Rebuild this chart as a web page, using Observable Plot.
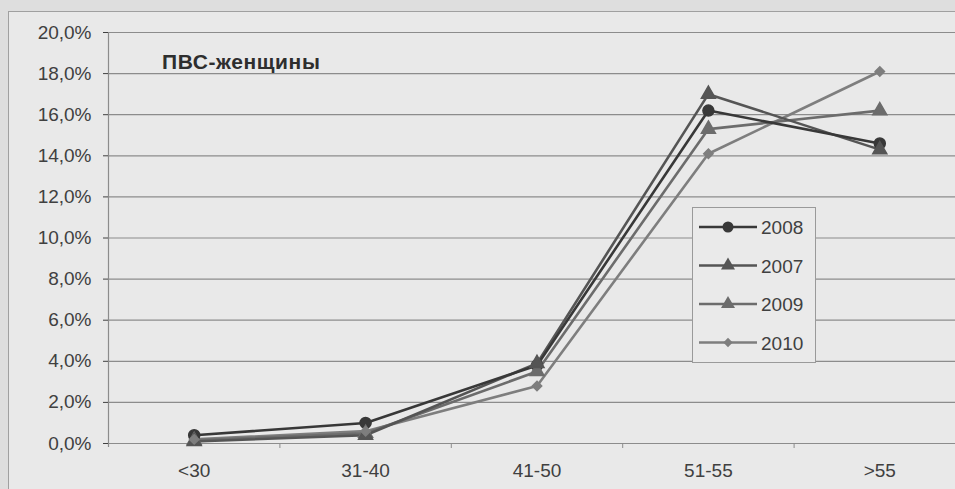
<!DOCTYPE html>
<html><head><meta charset="utf-8">
<script src="https://cdn.jsdelivr.net/npm/d3@7"></script>
<script src="https://cdn.jsdelivr.net/npm/@observablehq/plot@0.6"></script>
<style>
body{margin:0;background:#dedede;font-family:Arial,"Liberation Sans",sans-serif;}
#wrap{position:relative;width:955px;height:489px;overflow:hidden;}
#frame{position:absolute;left:8px;top:11px;width:980px;height:500px;border:1.5px solid #a0a0a0;background:#e9e9e9;}
#chart{position:absolute;left:0;top:0;}
#title{position:absolute;left:162px;top:50px;font-weight:bold;font-size:21px;color:#2e2e2e;letter-spacing:0.6px;}
#legend{position:absolute;left:692px;top:207px;width:122px;height:154px;border:1.2px solid #9a9a9a;background:#eaeaea;}
</style></head>
<body>
<div id="wrap"><div id="frame"></div><div id="chart"></div><div id="title">ПВС-женщины</div><div id="legend"></div></div>
<script>
const categories = ["<30", "31-40", "41-50", "51-55", ">55"];
const years = ["2008", "2007", "2009", "2010"];
const v2008 = [0.4, 1.0, 3.8, 16.2, 14.6];
const v2007 = [0.1, 0.4, 3.9, 17.0, 14.3];
const v2009 = [0.15, 0.5, 3.5, 15.3, 16.2];
const v2010 = [0.2, 0.6, 2.8, 14.1, 18.1];
const yTicks = [0, 2, 4, 6, 8, 10, 12, 14, 16, 18, 20];

const series = {"2008": v2008, "2007": v2007, "2009": v2009, "2010": v2010};
const colors = {"2008": "#383838", "2007": "#555555", "2009": "#6c6c6c", "2010": "#7e7e7e"};
const symbols = {"2008": "circle", "2007": "triangle", "2009": "triangle", "2010": "diamond2"};
const radii = {"2008": 5.5, "2007": 5.2, "2009": 5.2, "2010": 4.2};
const drawOrder = ["2010", "2009", "2007", "2008"];
const data = drawOrder.flatMap(y => series[y].map((v, i) => ({year: y, i, cat: categories[i], value: v})));
const fmt = d => d.toFixed(1).replace(".", ",") + "%";

const chart = Plot.plot({
  width: 955, height: 489,
  marginLeft: 108, marginRight: 0, marginTop: 32, marginBottom: 46,
  style: {background: "transparent", fontFamily: "Arial, 'Liberation Sans', sans-serif"},
  x: {type: "linear", domain: [-0.5, 4.5], range: [108, 965], label: null},
  y: {domain: [0, 20], range: [443, 32], label: null},
  color: {domain: years, range: years.map(y => colors[y])},
  symbol: {domain: years, range: years.map(y => symbols[y])},
  r: {type: "identity"},
  marks: [
    Plot.ruleY(yTicks, {stroke: "#8c8c8c", strokeWidth: 1.2}),
    Plot.ruleX([-0.5], {y1: -0.2, y2: 20, stroke: "#8c8c8c", strokeWidth: 1.2}),
    Plot.axisY({ticks: yTicks, tickSize: 5, tickPadding: 12, tickFormat: fmt, fontSize: 19, color: "#404040", label: null}),
    Plot.axisX({ticks: [0.5, 1.5, 2.5, 3.5], tickSize: 5, tickFormat: () => "", color: "#8c8c8c", label: null}),
    Plot.axisX({ticks: [0, 1, 2, 3, 4], tickSize: 0, tickPadding: 20, tickFormat: i => categories[i], fontSize: 19, color: "#404040", label: null}),
    Plot.line(data, {x: "i", y: "value", z: "year", stroke: "year", strokeWidth: 2.6}),
    Plot.dot(data, {x: "i", y: "value", fill: "year", stroke: "year", symbol: "year", r: d => radii[d.year]})
  ]
});
document.getElementById("chart").appendChild(chart);

// legend
const lg = d3.select("#legend").append("svg").attr("width", 122).attr("height", 154);
years.forEach((y, k) => {
  const cy = 19 + k * 38.5;
  const g = lg.append("g").attr("transform", `translate(0,${cy})`);
  g.append("line").attr("x1", 6).attr("x2", 64).attr("y1", 0).attr("y2", 0).attr("stroke", colors[y]).attr("stroke-width", 2.6);
  const sym = {circle: d3.symbolCircle, triangle: d3.symbolTriangle, diamond2: d3.symbolDiamond2}[symbols[y]];
  g.append("path").attr("transform", "translate(35,0)").attr("d", d3.symbol(sym, Math.PI * radii[y] * radii[y])()).attr("fill", colors[y]);
  g.append("text").attr("x", 68).attr("y", 7).attr("font-size", 19).attr("fill", "#404040").text(y);
});
</script>
</body></html>
